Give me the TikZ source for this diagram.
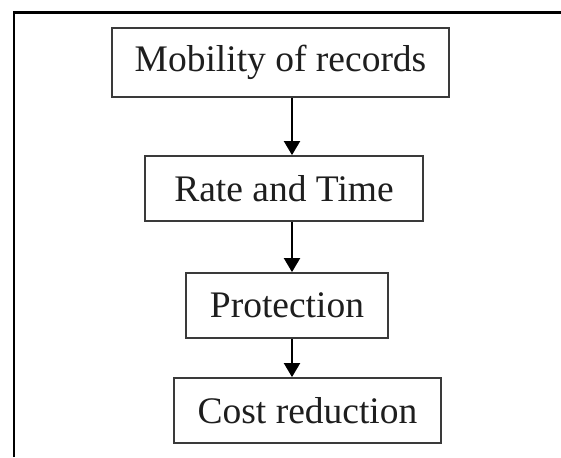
\documentclass[tikz,border=0pt]{standalone}
\usepackage{fontspec}
\setmainfont{Liberation Serif}
\usetikzlibrary{arrows.meta}

\definecolor{boxline}{HTML}{3A3A3A}
\definecolor{ink}{HTML}{1E1E1E}

\tikzset{
  stagebox/.style={draw=boxline, line width=1.8pt, fill=white,
    inner sep=0pt, text=ink,
    font=\fontsize{37.5}{40}\selectfont},
  flowarrow/.style={draw=black, line width=2pt,
    -{Triangle[width=16pt,length=14pt]}},
  frameline/.style={draw=black, line width=2.8pt}
}

\begin{document}
\begin{tikzpicture}[x=1pt,y=-1pt]
  \useasboundingbox (0,0) rectangle (561,457);

  % outer frame (top and left edges)
  \coordinate (fl) at (14,457);
  \coordinate (fc) at (14,12.5);
  \coordinate (fr) at (561,12.5);
  \draw[frameline] (fl) -- (fc) -- (fr);

  % stages of the flow
  \node[stagebox, minimum width=337pt, minimum height=69pt] (b1) at (280.5,62.5) {Mobility of records};
  \node[stagebox, minimum width=278pt, minimum height=65pt] (b2) at (284,188.5) {Rate and Time};
  \node[stagebox, minimum width=202pt, minimum height=65pt] (b3) at (287,305.5) {Protection};
  \node[stagebox, minimum width=267pt, minimum height=65pt] (b4) at (307.5,410.5) {Cost reduction};

  % vertical axis of the connectors
  \coordinate (axis) at (292,0);

  \draw[flowarrow] (b1.south -| axis) -- (b2.north -| axis);
  \draw[flowarrow] (b2.south -| axis) -- (b3.north -| axis);
  \draw[flowarrow] (b3.south -| axis) -- (b4.north -| axis);
\end{tikzpicture}
\end{document}
